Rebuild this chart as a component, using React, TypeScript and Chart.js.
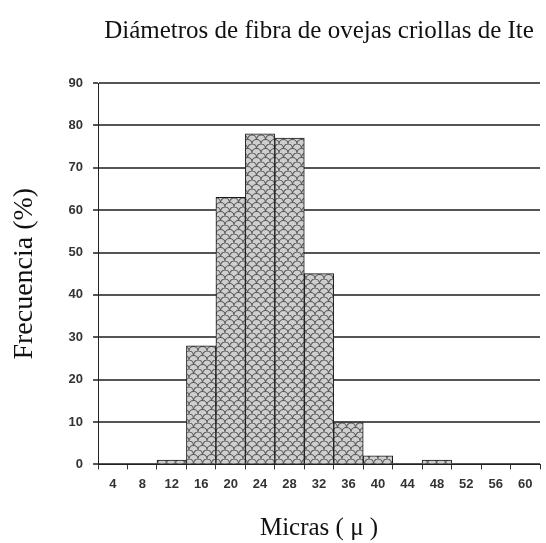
import React, { useEffect, useRef } from 'react';
import { Chart, registerables } from 'chart.js';

Chart.register(...registerables);

const categories = ['4', '8', '12', '16', '20', '24', '28', '32', '36', '40', '44', '48', '52', '56', '60'];
const frequencies = [0, 0, 1, 28, 63, 78, 77, 45, 10, 2, 0, 1, 0, 0, 0];
const yMin = 0;
const yMax = 90;
const yStep = 10;

const chartTitle = 'Diámetros de fibra de ovejas criollas de Ite';
const xTitle = 'Micras ( μ )';
const yTitle = 'Frecuencia (%)';

function makeWeave(): CanvasPattern | string {
  const s = 9;
  const c = document.createElement('canvas');
  c.width = s;
  c.height = s;
  const g = c.getContext('2d');
  if (!g) return '#cccccc';
  g.fillStyle = '#cfcfcf';
  g.fillRect(0, 0, s, s);
  g.strokeStyle = '#5a5a5a';
  g.lineWidth = 1.2;
  const h = s / 2;
  g.beginPath();
  g.arc(h, s, h, Math.PI, 2 * Math.PI);
  g.stroke();
  g.beginPath();
  g.arc(0, h, h, 1.5 * Math.PI, 2 * Math.PI);
  g.stroke();
  g.beginPath();
  g.arc(s, h, h, Math.PI, 1.5 * Math.PI);
  g.stroke();
  const p = g.createPattern(c, 'repeat');
  return p || '#cccccc';
}

export default function App() {
  const ref = useRef<HTMLCanvasElement>(null);

  useEffect(() => {
    if (!ref.current) return;
    const serif = 'Liberation Serif, "Times New Roman", serif';
    const sans = 'Liberation Sans, Arial, sans-serif';
    const chart = new Chart(ref.current, {
      type: 'bar',
      data: {
        labels: categories,
        datasets: [
          {
            data: frequencies,
            backgroundColor: makeWeave() as any,
            borderColor: '#1a1a1a',
            borderWidth: 1,
            barPercentage: 1,
            categoryPercentage: 1,
          },
        ],
      },
      options: {
        responsive: false,
        animation: false,
        devicePixelRatio: 1,
        layout: { padding: { left: 0, right: 6, top: 16, bottom: 0 } },
        plugins: {
          legend: { display: false },
          tooltip: { enabled: false },
          title: {
            display: true,
            text: chartTitle,
            fullSize: false,
            color: '#111',
            font: { family: serif, size: 25, weight: 'normal' },
            padding: { top: 0, bottom: 37 },
          },
        },
        scales: {
          x: {
            grid: {
              display: true,
              drawOnChartArea: false,
              offset: true,
              color: '#333',
              lineWidth: 1,
              tickLength: 5,
            },
            border: { color: '#222', width: 1 },
            ticks: {
              color: '#333',
              font: { family: sans, size: 13, weight: 'bold' },
              padding: 7,
              maxRotation: 0,
              autoSkip: false,
            },
            title: {
              display: true,
              text: xTitle,
              color: '#111',
              font: { family: serif, size: 25, weight: 'normal' },
              padding: { top: 14, bottom: 0 },
            },
          },
          y: {
            min: yMin,
            max: yMax,
            ticks: {
              stepSize: yStep,
              color: '#333',
              font: { family: sans, size: 13, weight: 'bold' },
              padding: 10,
            },
            grid: {
              color: '#555',
              lineWidth: 2,
              tickLength: 5,
            },
            border: { color: '#222', width: 1 },
            title: {
              display: true,
              text: yTitle,
              color: '#111',
              font: { family: serif, size: 28, weight: 'normal' },
              padding: { top: 8, bottom: 17 },
            },
          },
        },
      },
    });
    return () => chart.destroy();
  }, []);

  return (
    <div style={{ position: 'fixed', left: 0, top: 0, width: 546, height: 543 }}>
      <canvas ref={ref} width={546} height={543} style={{ display: 'block', width: 546, height: 543 }} />
    </div>
  );
}
